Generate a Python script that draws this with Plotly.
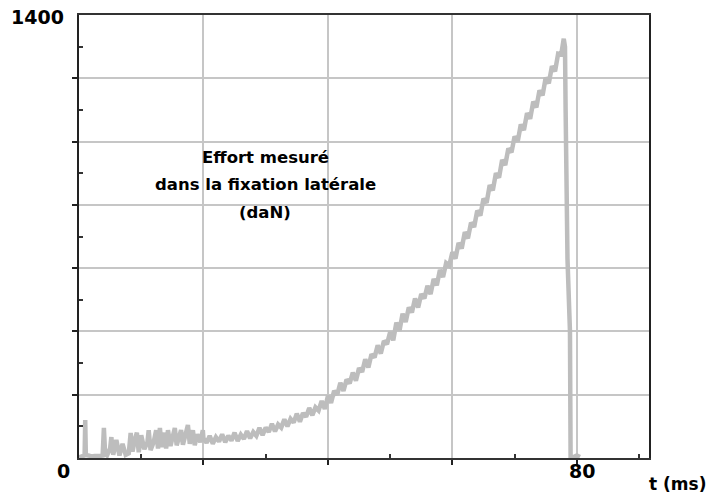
import plotly.graph_objects as go

t_ms = [0.0, 0.5, 0.9, 1.0, 1.1, 1.5, 2.0, 2.5, 3.0, 3.5, 3.8, 4.0, 4.2, 4.5, 5.0, 5.2, 5.5, 6.0, 6.5, 7.0, 7.5,
        8.0, 8.3, 8.6, 9.0, 9.3, 9.6, 10.0, 10.5, 11.0, 11.2, 11.5, 12.0, 12.4, 12.7, 13.0, 13.3, 13.8,
        14.0, 14.3, 14.7, 15.0, 15.4, 15.7, 16.0, 16.4, 16.7, 17.0, 17.5, 17.8, 18.3, 18.6, 19.0, 19.5, 19.9,
        20.0, 20.5, 21.0, 21.5, 22.0, 22.5, 23.0, 23.5,
        24.0, 24.5, 25.0, 25.5, 26.0, 26.5, 27.0, 27.5, 28.0, 28.5, 29.0, 29.5, 30.0, 30.5, 31.0, 31.5,
        32.0, 32.5, 33.0, 33.5, 34.0, 34.5, 35.0, 35.5, 36.0, 36.5, 37.0, 37.5, 38.0, 38.5, 39.0, 39.5,
        40.0, 40.5, 41.0, 41.5, 42.0, 42.5, 43.0, 43.5, 44.0, 44.5, 45.0, 45.5, 46.0, 46.5, 47.0, 47.5,
        48.0, 48.5, 49.0, 49.5, 50.0, 50.5, 51.0, 51.5, 52.0, 52.5, 53.0, 53.5, 54.0, 54.5, 55.0, 55.5,
        56.0, 56.5, 57.0, 57.5, 58.0, 58.5, 59.0, 59.5, 60.0, 60.5, 61.0, 61.5, 62.0, 62.5, 63.0, 63.5,
        64.0, 64.5, 65.0, 65.5, 66.0, 66.5, 67.0, 67.5, 68.0, 68.5, 69.0, 69.5, 70.0, 70.5, 71.0, 71.5,
        72.0, 72.5, 73.0, 73.5, 74.0, 74.5, 75.0, 75.5, 76.0, 76.5, 77.0, 77.5, 77.9, 78.1, 78.2, 78.5,
        78.9, 79.0, 79.5, 80.0, 80.5]
force_daN = [2, 4, 8, 120, 10, 8, 5, 6, 5, 7, 8, 95, 12, 8, 30, 66, 10, 57, 8, 45, 10,
             15, 79, 20, 60, 80, 18, 72, 28, 50, 88, 25, 50, 88, 30, 95, 35, 80,
             30, 88, 38, 60, 95, 40, 65, 88, 42, 70, 104, 45, 88, 40, 75, 50, 88,
             62, 48, 70, 45, 66, 52, 75, 50,
             70, 55, 80, 54, 74, 60, 85, 62, 82, 70, 95, 72, 96, 82, 108, 84,
             106, 96, 122, 100, 124, 112, 140, 115, 142, 130, 158, 135, 160, 150, 180, 155,
             196, 174, 212, 200, 238, 212, 248, 236, 270, 244, 284, 272, 312, 286, 328, 318,
             356, 330, 370, 360, 398, 372, 428, 402, 456, 430, 476, 460, 504, 476, 518, 504,
             544, 518, 566, 546, 594, 572, 616, 608, 650, 630, 680, 662, 714, 694, 744, 730,
             782, 766, 820, 806, 862, 846, 900, 886, 942, 926, 978, 966, 1016, 1000, 1054, 1036,
             1090, 1072, 1126, 1108, 1162, 1146, 1202, 1184, 1238, 1222, 1278, 1276, 1325, 1300, 1100, 630,
             400, 5, 3, 8, 3]

x_grid = [20, 40, 60, 80]
y_grid = [200, 400, 600, 800, 1000, 1200]
title_lines = ["Effort mesuré", "dans la fixation latérale", "(daN)"]

FONT = "DejaVu Sans, Verdana, sans-serif"

fig = go.Figure()
fig.add_trace(go.Scatter(x=t_ms, y=force_daN, mode="lines",
                         line=dict(color="#bdbdbd", width=4.5), showlegend=False))

fig.update_layout(
    width=707, height=494,
    margin=dict(l=79, r=58, t=15, b=36),
    paper_bgcolor="white", plot_bgcolor="white",
    font=dict(family=FONT, color="black"),
)
fig.update_xaxes(range=[0, 91.6], tickvals=x_grid, showticklabels=False,
                 showgrid=True, gridcolor="#c6c6c6", gridwidth=1.5,
                 showline=True, linecolor="#333", linewidth=2, mirror=True,
                 ticks="outside", ticklen=5, tickcolor="#222", tickwidth=1.5,
                 minor=dict(tickvals=[10, 30, 50, 70, 90], ticks="inside", ticklen=4,
                            tickcolor="#333", showgrid=False),
                 zeroline=False, fixedrange=True)
fig.update_yaxes(range=[0, 1400], tickvals=y_grid, showticklabels=False,
                 showgrid=True, gridcolor="#c6c6c6", gridwidth=1.5,
                 showline=True, linecolor="#222", linewidth=2, mirror=True,
                 ticks="outside", ticklen=5, tickcolor="#222", tickwidth=1.5,
                 minor=dict(tickvals=[100, 300, 500, 700, 900, 1100, 1300], ticks="inside", ticklen=4,
                            tickcolor="#333", showgrid=False),
                 zeroline=False, fixedrange=True)

def label(text, x, y, size=18, anchor="center"):
    fig.add_annotation(text="<b>%s</b>" % text, x=x, y=y, xref="paper", yref="paper",
                       xanchor=anchor, yanchor="middle", showarrow=False,
                       font=dict(size=size, family=FONT, color="black"))

def px(xp, yp):
    return (xp - 79) / (649 - 79), (458 - yp) / (458 - 15)

label("1400", *px(37, 17), size=19)
label("0", *px(63, 471), size=19)
label("80", *px(582, 471), size=19)
label("t (ms)", *px(677, 484), size=17)
for line, yp in zip(title_lines, [157, 185, 212]):
    label(line, *px(265, yp), size=16.5)

fig.write_html("out.html")
